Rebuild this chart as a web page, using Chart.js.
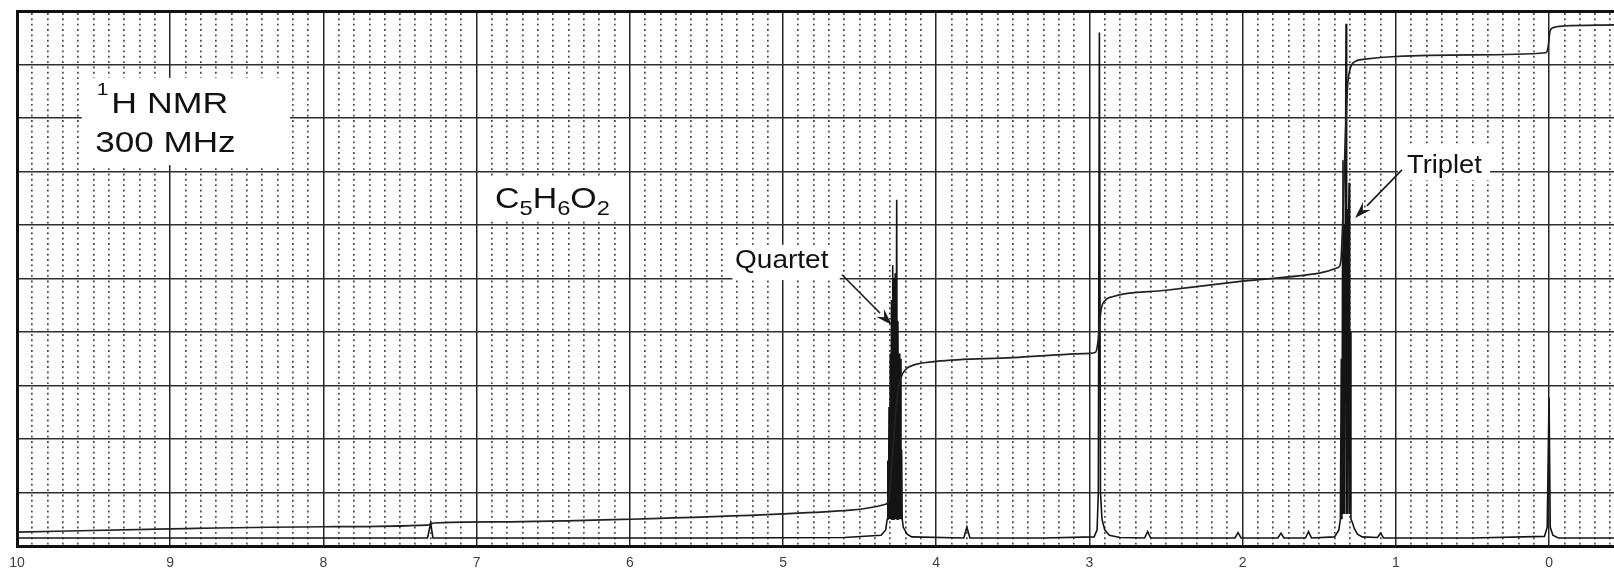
<!DOCTYPE html>
<html>
<head>
<meta charset="utf-8">
<script src="https://cdn.jsdelivr.net/npm/chart.js@4.4.1/dist/chart.umd.min.js"></script>
<style>
  html, body { margin: 0; padding: 0; background: #ffffff; }
  canvas { display: block; }
</style>
</head>
<body>
<canvas id="c" width="1614" height="574"></canvas>
<script>
// ---------------- data ----------------
const xTickLabels = [10, 9, 8, 7, 6, 5, 4, 3, 2, 1, 0];
const xMinPpm = -0.424;
const xMaxPpm = 10;
const yMinValue = 0;
const yMaxValue = 10;

// 1H spectrum trace (chemical shift in ppm, intensity in chart units)
const spectrumPpm = [
  10.0, 9.0, 8.0, 7.32, 7.30, 7.285, 6.5, 5.5, 4.6, 4.36, 4.33,
  4.320, 4.316, 4.312, 4.308, 4.304, 4.300, 4.296, 4.292, 4.288, 4.284, 4.280, 4.276,
  4.272, 4.268, 4.264, 4.258, 4.254, 4.250, 4.246, 4.242, 4.238, 4.234, 4.230, 4.226,
  4.222, 4.215, 4.19, 4.16,
  3.82, 3.80, 3.78, 3.3, 2.97, 2.95, 2.942, 2.935, 2.928, 2.918, 2.90, 2.87, 2.80,
  2.64, 2.62, 2.60, 2.05, 2.03, 2.01, 1.77, 1.75, 1.73, 1.59, 1.57, 1.55, 1.40, 1.372,
  1.362, 1.356, 1.352, 1.348, 1.345, 1.342, 1.338, 1.334, 1.330, 1.325, 1.321, 1.317,
  1.313, 1.309, 1.305, 1.301, 1.297, 1.293, 1.285, 1.27, 1.25, 1.22,
  1.12, 1.10, 1.08, 0.5, 0.03, 0.012, 0.0, -0.008, -0.025, -0.06, -0.424
];
const spectrumIntensity = [
  0.15, 0.15, 0.15, 0.15, 0.43, 0.15, 0.15, 0.15, 0.16, 0.2, 0.3,
  0.5, 1.6, 0.5, 2.6, 0.5, 3.6, 0.5, 4.6, 0.5, 5.25, 0.5, 5.0,
  0.5, 5.1, 0.5, 6.47, 0.5, 4.2, 0.5, 3.6, 0.5, 3.5, 0.5, 1.8,
  0.5, 0.35, 0.22, 0.17,
  0.15, 0.35, 0.15, 0.15, 0.17, 0.3, 1.0, 9.6, 1.0, 0.5, 0.3, 0.2, 0.16,
  0.15, 0.27, 0.15, 0.15, 0.25, 0.15, 0.15, 0.24, 0.15, 0.15, 0.27, 0.15, 0.17, 0.3,
  0.5, 3.5, 0.5, 5.5, 7.21, 0.6, 6.0, 0.6, 6.2, 9.76, 0.6, 6.3,
  0.6, 6.0, 6.79, 0.6, 4.0, 0.5, 0.45, 0.32, 0.22, 0.17,
  0.16, 0.24, 0.15, 0.15, 0.18, 0.35, 2.77, 0.35, 0.2, 0.15, 0.15
];

// integral trace
const integralPpm = [
  10.0, 9.0, 8.0, 7.32, 7.30, 7.28, 6.85, 6.0, 5.0, 4.56, 4.33, 4.31,
  4.29, 4.27, 4.25, 4.23, 4.20, 4.15, 4.0, 3.5, 3.0, 2.96,
  2.945, 2.935, 2.925, 2.90, 2.85, 2.5, 2.0, 1.5, 1.38, 1.36,
  1.345, 1.33, 1.315, 1.30, 1.27, 1.2, 1.0, 0.5, 0.02,
  0.005, -0.005, -0.02, -0.1, -0.424
];
const integralValue = [
  0.26, 0.32, 0.36, 0.39, 0.41, 0.43, 0.45, 0.5, 0.6, 0.67, 0.78, 0.85,
  1.5, 2.3, 2.9, 3.15, 3.3, 3.38, 3.45, 3.52, 3.6, 3.62,
  3.8, 4.1, 4.4, 4.58, 4.66, 4.78, 4.95, 5.1, 5.2, 5.3,
  6.2, 7.6, 8.6, 8.9, 9.05, 9.1, 9.15, 9.18, 9.22,
  9.35, 9.6, 9.68, 9.72, 9.74
];

// ---------------- annotations (text boxes and arrows) ----------------
const textBoxes = [
  { box: [9.577, 8.218, 8.75, 7.12] },
  { box: [6.99, 6.01, 6.88, 6.09] },
  { box: [5.33, 4.63, 5.63, 4.97] },
  { box: [0.986, 0.385, 7.5, 6.84] }
];
const textItems = [
  { x: 9.48, y: 8.09, size: 29, sx: 1.23, parts: [{ t: '1', sup: true }, { t: 'H NMR' }] },
  { x: 9.49, y: 7.36, size: 29, sx: 1.21, parts: [{ t: '300 MHz' }] },
  { x: 6.88, y: 6.32, size: 30, sx: 1.13, parts: [{ t: 'C' }, { t: '5', sub: true }, { t: 'H' }, { t: '6', sub: true }, { t: 'O' }, { t: '2', sub: true }] },
  { x: 5.313, y: 5.2, size: 25, sx: 1.12, parts: [{ t: 'Quartet' }] },
  { x: 0.927, y: 6.97, size: 26, sx: 1.05, parts: [{ t: 'Triplet' }] }
];
const arrows = [
  { from: [4.615, 5.07], to: [4.289, 4.13] },
  { from: [0.96, 7.03], to: [1.266, 6.13] }
];

// ---------------- chart ----------------
const FONT = '"Liberation Sans", Arial, Helvetica, sans-serif';

const annotationPlugin = {
  id: 'nmrAnnotations',
  beforeDatasetsDraw(chart) {
    const ctx = chart.ctx;
    const xs = chart.scales.x, ys = chart.scales.y;
    ctx.save();
    ctx.fillStyle = '#ffffff';
    textBoxes.forEach(b => {
      const x1 = xs.getPixelForValue(b.box[0]), x2 = xs.getPixelForValue(b.box[1]);
      const y1 = ys.getPixelForValue(b.box[2]), y2 = ys.getPixelForValue(b.box[3]);
      ctx.fillRect(Math.min(x1, x2), Math.min(y1, y2), Math.abs(x2 - x1), Math.abs(y2 - y1));
    });
    ctx.fillStyle = '#111111';
    ctx.textBaseline = 'alphabetic';
    textItems.forEach(it => {
      let px = xs.getPixelForValue(it.x);
      const py = ys.getPixelForValue(it.y);
      it.parts.forEach(p => {
        let size = it.size, dy = 0;
        if (p.sup) { size = Math.round(it.size * 0.6); dy = -it.size * 0.62; }
        if (p.sub) { size = Math.round(it.size * 0.7); dy = it.size * 0.24; }
        ctx.font = size + 'px ' + FONT;
        ctx.save();
        ctx.translate(px, py + dy);
        ctx.scale(it.sx, 1);
        ctx.fillText(p.t, 0, 0);
        ctx.restore();
        px += ctx.measureText(p.t).width * it.sx + (p.sup ? 3 : 0);
      });
    });
    ctx.strokeStyle = '#1a1a1a';
    ctx.fillStyle = '#1a1a1a';
    ctx.lineWidth = 1.6;
    arrows.forEach(a => {
      const x1 = xs.getPixelForValue(a.from[0]), y1 = ys.getPixelForValue(a.from[1]);
      const x2 = xs.getPixelForValue(a.to[0]), y2 = ys.getPixelForValue(a.to[1]);
      const ang = Math.atan2(y2 - y1, x2 - x1);
      const L = 17, W = 5.5;
      const bx = x2 - L * Math.cos(ang), by = y2 - L * Math.sin(ang);
      ctx.beginPath();
      ctx.moveTo(x1, y1);
      ctx.lineTo(bx, by);
      ctx.stroke();
      ctx.beginPath();
      ctx.moveTo(x2, y2);
      ctx.lineTo(bx + W * Math.sin(ang), by - W * Math.cos(ang));
      ctx.lineTo(bx + 0.35 * L * Math.cos(ang), by + 0.35 * L * Math.sin(ang));
      ctx.lineTo(bx - W * Math.sin(ang), by + W * Math.cos(ang));
      ctx.closePath();
      ctx.fill();
    });
    ctx.restore();
  }
};

const spectrumPoints = spectrumPpm.map((p, i) => ({ x: p, y: spectrumIntensity[i] }));
const integralPoints = integralPpm.map((p, i) => ({ x: p, y: integralValue[i] }));

new Chart(document.getElementById('c'), {
  type: 'scatter',
  data: {
    datasets: [
      {
        label: 'Integral',
        data: integralPoints,
        showLine: true,
        borderColor: '#222222',
        borderWidth: 1.7,
        pointRadius: 0,
        cubicInterpolationMode: 'monotone',
        xAxisID: 'x', yAxisID: 'y'
      },
      {
        label: 'Spectrum',
        data: spectrumPoints,
        showLine: true,
        borderColor: '#141414',
        borderWidth: 1.6,
        pointRadius: 0,
        tension: 0,
        xAxisID: 'x', yAxisID: 'y'
      }
    ]
  },
  options: {
    responsive: false,
    animation: false,
    events: [],
    layout: { padding: { left: 17, top: 11, right: 0, bottom: 3 } },
    plugins: { legend: { display: false }, tooltip: { enabled: false } },
    scales: {
      x: {
        type: 'linear',
        position: 'bottom',
        reverse: true,
        min: xMinPpm,
        max: xMaxPpm,
        afterBuildTicks: (axis) => { axis.ticks = xTickLabels.map(v => ({ value: v })); },
        afterFit: (axis) => { axis.height = 25; },
        ticks: {
          color: '#404040',
          font: { family: FONT, size: 14 },
          padding: 9,
          autoSkip: false,
          maxRotation: 0,
          callback: (v) => String(v)
        },
        grid: { color: '#262626', lineWidth: 1.5, drawTicks: false },
        border: { display: true, color: '#111111', width: 3 }
      },
      xMinor: {
        type: 'linear',
        position: 'top',
        reverse: true,
        min: xMinPpm,
        max: xMaxPpm,
        afterBuildTicks: (axis) => {
          const t = [];
          for (let i = -4; i < 100; i++) { if (i % 10 !== 0) t.push({ value: i / 10 }); }
          axis.ticks = t;
        },
        ticks: { display: false },
        grid: { color: 'rgba(30,30,30,0.8)', lineWidth: 1.7, drawTicks: false },
        border: { display: true, color: '#111111', width: 3, dash: [1.9, 3.45] }
      },
      y: {
        type: 'linear',
        min: yMinValue,
        max: yMaxValue,
        ticks: { display: false, stepSize: 1 },
        grid: { color: '#2e2e2e', lineWidth: 1.5, drawTicks: false },
        border: { display: true, color: '#111111', width: 3 }
      }
    }
  },
  plugins: [annotationPlugin]
});
</script>
</body>
</html>
